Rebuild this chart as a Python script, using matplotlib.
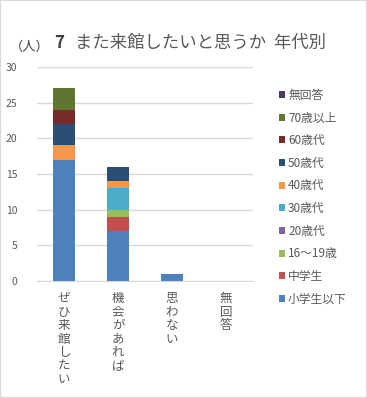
import matplotlib
matplotlib.use("Agg")
import matplotlib.pyplot as plt
import numpy as np

plt.rcParams['font.family'] = ['Noto Sans CJK JP', 'DejaVu Sans']

categories = ['ぜひ来館したい', '機会があれば', '思わない', '無回答']
series_names = ['小学生以下', '中学生', '16～19歳', '20歳代', '30歳代',
                '40歳代', '50歳代', '60歳代', '70歳以上', '無回答']
values = {
    '小学生以下': [17, 7, 1, 0],
    '中学生':     [0, 2, 0, 0],
    '16～19歳':   [0, 1, 0, 0],
    '20歳代':     [0, 0, 0, 0],
    '30歳代':     [0, 3, 0, 0],
    '40歳代':     [2, 1, 0, 0],
    '50歳代':     [3, 2, 0, 0],
    '60歳代':     [2, 0, 0, 0],
    '70歳以上':   [3, 0, 0, 0],
    '無回答':     [0, 0, 0, 0],
}
colors = ['#4F81BD', '#C0504D', '#9BBB59', '#8064A2', '#4BACC6',
          '#F79646', '#2C4D75', '#772C2A', '#5F7530', '#4D3B62']
yticks = [0, 5, 10, 15, 20, 25, 30]

fig = plt.figure(figsize=(3.67, 3.98), dpi=100)
ax = fig.add_axes([37/367, (398-281)/398, 216/367, 214/398])

x = np.arange(len(categories))
bottom = np.zeros(len(categories))
handles = []
for name, c in zip(series_names, colors):
    v = np.array(values[name], dtype=float)
    b = ax.bar(x, v, 0.42, bottom=bottom, color=c, label=name, zorder=3)
    handles.append(b)
    bottom += v

ax.set_xlim(-0.5, len(categories) - 0.5)
ax.set_ylim(0, 30)
ax.set_yticks(yticks)
ax.yaxis.grid(True, color='#D9D9D9', linewidth=1)
ax.set_axisbelow(True)
for s in ['left', 'right', 'top']:
    ax.spines[s].set_visible(False)
ax.spines['bottom'].set_color('#D9D9D9')
ax.tick_params(axis='both', length=0, colors='#595959', labelsize=7.5)
ax.tick_params(axis='y', pad=14)
ax.set_xticks(x)
ax.set_xticklabels(['\n'.join(c) for c in categories], va='top',
                   linespacing=1.05, fontsize=9, color='#595959')
ax.tick_params(axis='x', pad=8)

fig.text(10/367, 1 - 47/398, '（人）', fontsize=9.5, color='#404040', va='center')
fig.text(54/367, 1 - 43/398, '7', fontsize=12, fontweight='bold',
         color='#404040', va='center')
fig.text(75/367, 1 - 43/398, 'また来館したいと思うか  年代別', fontsize=12.5,
         color='#595959', va='center')

leg = fig.legend(handles[::-1], series_names[::-1], loc='upper left',
                 bbox_to_anchor=(268/367, 1 - 78/398), frameon=False,
                 fontsize=8.5, labelcolor='#595959', handlelength=0.55,
                 handleheight=0.55, handletextpad=0.25, labelspacing=0.82)

fig.patches.append(plt.Rectangle((0, 0), 1, 1, transform=fig.transFigure,
                                 fill=False, edgecolor='#D9D9D9', linewidth=1.5))

fig.savefig('out.png', dpi=100)
